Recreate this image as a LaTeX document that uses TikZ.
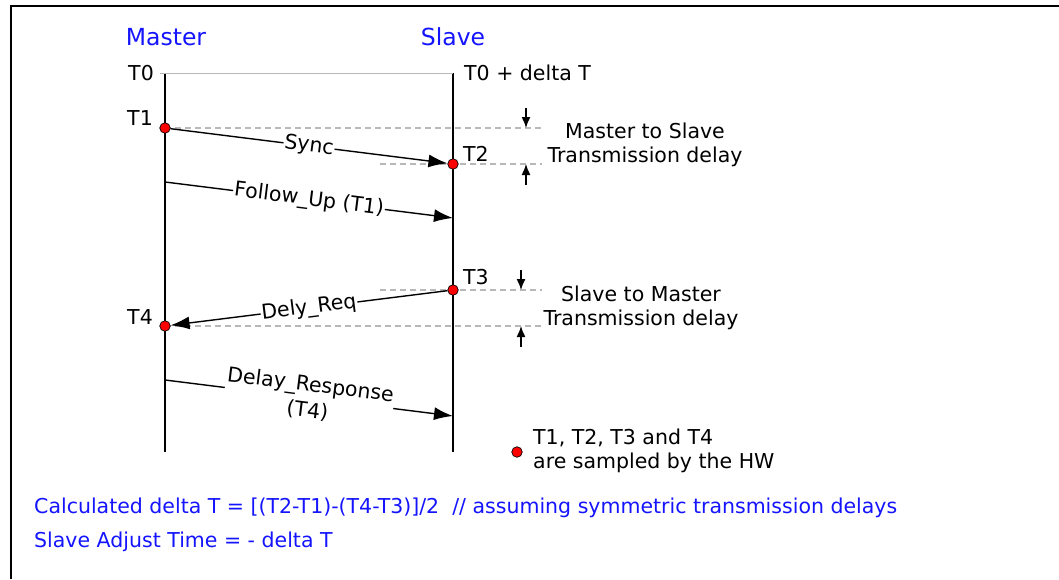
\documentclass[tikz,border=0pt]{standalone}
\usepackage{fontspec}
\setmainfont{DejaVu Sans}
\usepackage{tikz}
\usepackage{xcolor}
\usetikzlibrary{arrows.meta,positioning,backgrounds}
\definecolor{roleblue}{HTML}{1414FF}
\definecolor{guidegray}{HTML}{B8B8B8}
\definecolor{stampred}{HTML}{FF0000}
\newcommand{\labelfont}{\fontsize{20.5}{24}\selectfont}
\newcommand{\rolefont}{\fontsize{23.5}{27}\selectfont}
\tikzset{
  lifeline/.style={draw=black, line width=1.6pt},
  msgarrow/.style={-{Latex[length=19pt,width=13pt]}, line width=1.4pt},
  msglabel/.style={sloped, fill=white, inner sep=1pt, font=\labelfont, align=center},
  stampdot/.style={circle, draw=black, fill=stampred, line width=0.7pt, inner sep=0pt, minimum size=10.5pt},
  guideline/.style={draw=guidegray, line width=2.2pt, dash pattern=on 6pt off 4pt},
  gaparrow/.style={-{Latex[length=11pt,width=9pt]}, line width=1.4pt},
  timelabel/.style={font=\labelfont, inner sep=0pt},
  notelabel/.style={font=\labelfont, inner sep=0pt, align=center},
  rolelabel/.style={font=\rolefont, text=roleblue, inner sep=0pt},
  formula/.style={font=\labelfont, text=roleblue, inner sep=0pt, anchor=west}
}

\begin{document}
\begin{tikzpicture}[x=1pt,y=-1pt]
\useasboundingbox (0,0) rectangle (1059,579);
\draw[line width=2pt] (11,579) -- (11,6) -- (1059,6);

% the two clocks
\node[rolelabel] (master) at (166,37) {Master};
\node[rolelabel] (slave) at (453,37) {Slave};
\coordinate (mtop) at (165,73);
\coordinate (mbot) at (165,452);
\coordinate (stop) at (453,73);
\coordinate (sbot) at (453,452);
\draw[lifeline] (mtop) -- (mbot);
\draw[lifeline] (stop) -- (sbot);
\draw[guidegray, line width=0.8pt] ([xshift=-5pt]mtop) -- (stop);
\node[timelabel, anchor=east] (t0) at (154,73) {T0};
\node[timelabel, anchor=west] (t0slave) at (464,73) {T0 + delta T};

% sampled time stamps
\node[stampdot] (t1) at (165,128) {};
\node[stampdot] (t2) at (453,164) {};
\node[stampdot] (t3) at (453,290) {};
\node[stampdot] (t4) at (165,326) {};
\node[timelabel, anchor=east] (t1lab) at (153,118) {T1};
\node[timelabel, anchor=west] (t2lab) at (463,154) {T2};
\node[timelabel, anchor=west] (t3lab) at (463,277) {T3};
\node[timelabel, anchor=east] (t4lab) at (153,317) {T4};

% guides for the delays
\coordinate (g1) at (542,128);
\coordinate (g2s) at (380,164);
\coordinate (g2) at (542,164);
\coordinate (g3s) at (380,290);
\coordinate (g3) at (542,290);
\coordinate (g4) at (542,326);
\begin{scope}[on background layer]
\draw[guideline] (t1.center) -- (g1);
\draw[guideline] (g2s) -- (g2);
\draw[guideline] (g3s) -- (g3);
\draw[guideline] (t4.center) -- (g4);
\end{scope}

\coordinate (d1top) at (526,108);
\coordinate (d1) at (526,128);
\coordinate (d2bot) at (526,185);
\coordinate (d2) at (526,164);
\coordinate (d3top) at (521,270);
\coordinate (d3) at (521,290);
\coordinate (d4bot) at (521,347);
\coordinate (d4) at (521,326);
\draw[gaparrow] (d1top) -- (d1);
\draw[gaparrow] (d2bot) -- (d2);
\draw[gaparrow] (d3top) -- (d3);
\draw[gaparrow] (d4bot) -- (d4);

\node[notelabel] (msdelay) at (645,145) {Master to Slave\\Transmission delay};
\node[notelabel] (smdelay) at (641,308) {Slave to Master\\Transmission delay};

% messages
\coordinate (fus) at (165,182);
\coordinate (fue) at (453,218);
\coordinate (drs) at (165,380);
\coordinate (dre) at (453,416);
\draw[msgarrow] (t1) -- node[msglabel] {Sync} (t2);
\draw[msgarrow] (fus) -- node[msglabel] {Follow\_Up (T1)} (fue);
\draw[msgarrow] (t3) -- node[msglabel] {Dely\_Req} (t4);
\draw[msgarrow] (drs) -- node[msglabel, font=\fontsize{20.5}{26}\selectfont] {Delay\_Response\\(T4)} (dre);

% legend and formulas
\node[stampdot] (legdot) at (517,452) {};
\node[notelabel, align=left, anchor=west] (legend) at (533,451) {T1, T2, T3 and T4\\are sampled by the HW};
\node[formula] (calc) at (34,508) {Calculated delta T = [(T2-T1)-(T4-T3)]/2 \ // assuming symmetric transmission delays};
\node[formula] (adjust) at (34,542) {Slave Adjust Time = - delta T};
\end{tikzpicture}
\end{document}
